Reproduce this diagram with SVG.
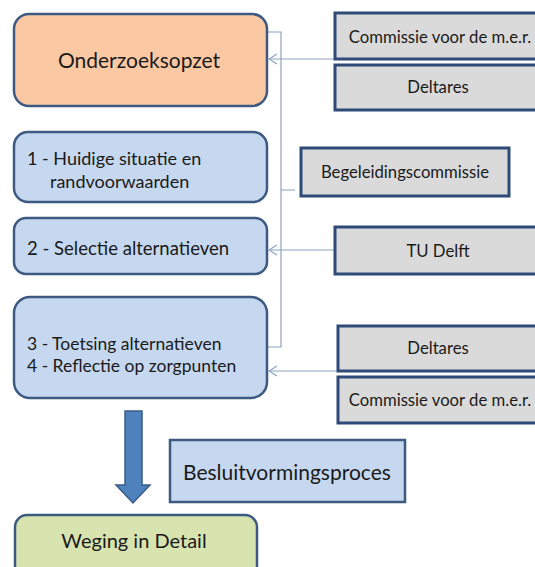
<svg xmlns="http://www.w3.org/2000/svg" width="535" height="567" viewBox="0 0 535 567">
  <style>
    .phase { stroke: #3d5a80; stroke-width: 2.5; }
    .blue { fill: #c6d8f0; }
    .peach { fill: #fac9a4; }
    .green { fill: #d8e4b0; }
    .actor { fill: #dadada; stroke: #2e4a78; stroke-width: 3; }
    .lbl { font-family: "Lato", "Open Sans", sans-serif; fill: #1a1a1a; }
    .small { font-size: 16.7px; }
    .link { fill: none; stroke: #8ea4c2; stroke-width: 1.2; }
  </style>
  <defs>
    <marker id="open" markerWidth="10" markerHeight="12" refX="9" refY="6" orient="auto" markerUnits="userSpaceOnUse">
      <path d="M1,1 L9,6 L1,11" fill="none" stroke="#8ea4c2" stroke-width="1.2"/>
    </marker>
  </defs>
  <rect width="535" height="567" fill="#ffffff"/>

  <!-- connectors -->
  <g id="connectors">
    <path class="link" d="M267,32 H281 V347 H267 M281,190 H295"/>
    <line class="link" x1="335" y1="59" x2="269" y2="59" marker-end="url(#open)"/>
    <line class="link" x1="335" y1="250" x2="269" y2="250" marker-end="url(#open)"/>
    <line class="link" x1="338" y1="371" x2="269" y2="371" marker-end="url(#open)"/>
  </g>

  <g id="onderzoeksopzet">
    <rect class="phase peach" x="14" y="14" width="253" height="92" rx="15"/>
    <text class="lbl" x="139" y="68" font-size="21" text-anchor="middle">Onderzoeksopzet</text>
  </g>

  <g id="fase1">
    <rect class="phase blue" x="14" y="132" width="253" height="70" rx="14"/>
    <text class="lbl" x="27" y="165" font-size="18">1 - Huidige situatie en</text>
    <text class="lbl" x="50" y="188" font-size="18">randvoorwaarden</text>
  </g>

  <g id="fase2">
    <rect class="phase blue" x="14" y="218" width="253" height="56" rx="12"/>
    <text class="lbl" x="27" y="255" font-size="18.5">2 - Selectie alternatieven</text>
  </g>

  <g id="fase34">
    <rect class="phase blue" x="14" y="297" width="253" height="101" rx="16"/>
    <text class="lbl" x="27" y="350" font-size="17.5">3 - Toetsing alternatieven</text>
    <text class="lbl" x="27" y="372" font-size="17.5">4 - Reflectie op zorgpunten</text>
  </g>

  <g id="commissie-top">
    <rect class="actor" x="335" y="13" width="210" height="46"/>
    <text class="lbl small" x="440" y="43" text-anchor="middle">Commissie voor de m.e.r.</text>
  </g>
  <g id="deltares-top">
    <rect class="actor" x="335" y="65" width="210" height="45"/>
    <text class="lbl small" x="438" y="93" text-anchor="middle">Deltares</text>
  </g>

  <g id="begeleidingscommissie">
    <rect class="actor" x="301" y="148" width="208" height="48"/>
    <text class="lbl small" x="405" y="178" text-anchor="middle">Begeleidingscommissie</text>
  </g>

  <g id="tudelft">
    <rect class="actor" x="335" y="227" width="210" height="47"/>
    <text class="lbl small" x="438" y="257" text-anchor="middle">TU Delft</text>
  </g>

  <g id="deltares-bottom">
    <rect class="actor" x="338" y="326" width="207" height="45"/>
    <text class="lbl small" x="438" y="354" text-anchor="middle">Deltares</text>
  </g>
  <g id="commissie-bottom">
    <rect class="actor" x="338" y="377" width="207" height="46"/>
    <text class="lbl small" x="440" y="406" text-anchor="middle">Commissie voor de m.e.r.</text>
  </g>

  <g id="pijl">
    <path d="M125,411 H142 V485 H150 L133,503 L116,485 H125 Z" fill="#4f81bd" stroke="#385d8a" stroke-width="1.5"/>
  </g>

  <g id="besluitvormingsproces">
    <rect class="phase blue" x="170" y="440" width="235" height="62"/>
    <text class="lbl" x="183" y="480" font-size="21">Besluitvormingsproces</text>
  </g>

  <g id="weging">
    <rect class="phase green" x="15" y="515" width="242" height="70" rx="12"/>
    <text class="lbl" x="134" y="548" font-size="20" text-anchor="middle">Weging in Detail</text>
  </g>
</svg>
